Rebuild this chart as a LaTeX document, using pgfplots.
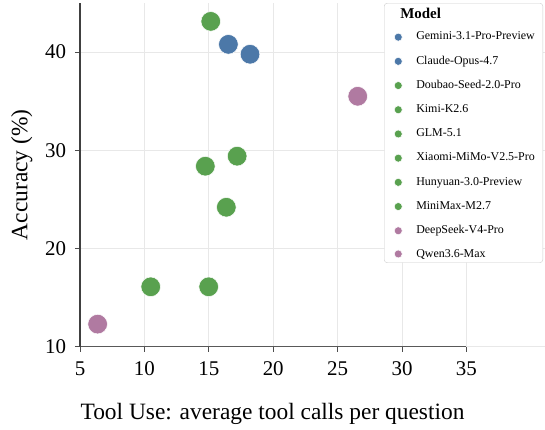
\documentclass[border=0pt]{standalone}
\usepackage{pgfplots}
\pgfplotsset{compat=1.18}
\usepackage{fontspec}
\setmainfont{Liberation Serif}
\definecolor{cblue}{HTML}{4C78A8}
\definecolor{cgreen}{HTML}{59A14F}
\definecolor{cpink}{HTML}{B07AA1}
\pgfplotsset{
  mysc/.style={only marks, mark=*, mark size=9.8bp, color=#1,
    mark options={fill=#1, draw=white, line width=0.5bp},
    legend image code/.code={\path[draw=none,fill=none] (-8bp,0bp) -- (0bp,0bp); \draw[##1,mark size=4bp] plot coordinates {(0bp,0bp)};}},
}
\begin{document}
\begin{tikzpicture}
\begin{axis}[
  name=ax,
  width=465bp, height=343.7bp, scale only axis,
  xmin=5, xmax=41.1, ymin=10, ymax=45,
  xtick={5,10,...,35}, ytick={10,20,30,40},
  xtick pos=bottom, ytick pos=left,
  grid=major, major grid style={color=black!9, line width=0.8bp},
  axis line style={draw=none},
  tick style={color=black!70, line width=0.8bp},
  tick align=outside, major tick length=5bp,
  clip=false,
  /pgf/number format/assume math mode=true,
  ticklabel style={font=\fontsize{21}{24}\selectfont},
  xticklabel style={yshift=-6.5bp},
  yticklabel style={xshift=-5.5bp},
  xlabel={Tool Use: average tool calls per question},
  ylabel={Accuracy (\%)},
  label style={font=\fontsize{23.5}{27}\selectfont},
  xlabel style={at={(axis description cs:0.414,-0.2104)}, anchor=base},
  ylabel style={at={(axis description cs:-0.1254,0.5)}, anchor=center},
  legend style={at={(1,1)}, anchor=north east, xshift=-2bp, yshift=0bp,
    draw=black!20, rounded corners=3bp, fill=white,
    font=\fontsize{12}{14}\selectfont, row sep=8.7bp,
    inner xsep=6bp, inner ysep=2bp,
    nodes={inner sep=2bp, text height=8.5bp, text depth=3bp},
    column sep=12bp},
  legend cell align=left,
]
\addlegendimage{empty legend}
\addlegendentry[text height=11bp, text depth=0.5bp]{\hspace*{-16bp}\fontsize{15}{17}\selectfont\bfseries Model}
\addplot[mysc=cblue] coordinates {(16.52,40.79)};
\addlegendentry{Gemini-3.1-Pro-Preview}
\addplot[mysc=cblue] coordinates {(18.20,39.78)};
\addlegendentry{Claude-Opus-4.7}
\addplot[mysc=cgreen] coordinates {(15.15,43.13)};
\addlegendentry{Doubao-Seed-2.0-Pro}
\addplot[mysc=cgreen] coordinates {(17.20,29.40)};
\addlegendentry{Kimi-K2.6}
\addplot[mysc=cgreen] coordinates {(14.73,28.38)};
\addlegendentry{GLM-5.1}
\addplot[mysc=cgreen] coordinates {(16.36,24.20)};
\addlegendentry{Xiaomi-MiMo-V2.5-Pro}
\addplot[mysc=cgreen] coordinates {(10.49,16.10)};
\addlegendentry{Hunyuan-3.0-Preview}
\addplot[mysc=cgreen] coordinates {(14.99,16.10)};
\addlegendentry{MiniMax-M2.7}
\addplot[mysc=cpink] coordinates {(26.56,35.50)};
\addlegendentry{DeepSeek-V4-Pro}
\addplot[mysc=cpink] coordinates {(6.37,12.30)};
\addlegendentry[text depth=1bp]{Qwen3.6-Max}
\draw[black!65, line width=1.2bp] (axis cs:5,10) -- (axis cs:35,10);
\draw[black!75, line width=1.2bp] (axis cs:5,10) -- (axis cs:5,45);
\end{axis}
\pgfresetboundingbox
\path ([shift={(-80bp,-83.3bp)}]ax.south west) rectangle ++(545bp,430bp);
\end{tikzpicture}
\end{document}
